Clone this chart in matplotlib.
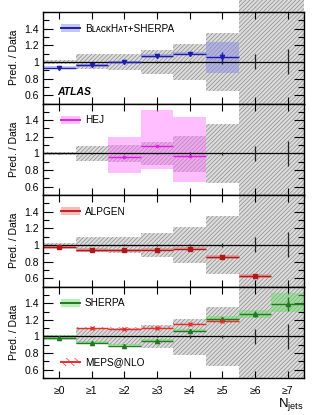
import numpy as np
import matplotlib
matplotlib.use("Agg")
from matplotlib import pyplot as plt
from matplotlib.patches import Patch
from matplotlib.lines import Line2D

plt.rcParams['font.family'] = ['Liberation Sans', 'DejaVu Sans']
plt.rcParams['hatch.linewidth'] = 0.5

# bins: >=0 ... >=7 jets
tick_labels = ["≥0", "≥1", "≥2", "≥3", "≥4", "≥5", "≥6", "≥7"]
bins = np.arange(8)

# data uncertainty band (relative) and data stat errors
data_lo = [0.98, 0.91, 0.90, 0.86, 0.78, 0.65, 0.0, 0.0]
data_hi = [1.02, 1.09, 1.10, 1.14, 1.21, 1.35, 2.5, 2.5]
data_err = [0.004, 0.005, 0.006, 0.01, 0.015, 0.02, 0.09, 0.15]

# BlackHat+SHERPA
bh_bins = [0, 1, 2, 3, 4, 5]
bh_val = [0.93, 0.96, 1.00, 1.07, 1.10, 1.06]
bh_lo = [0.91, 0.945, 0.99, 1.05, 1.08, 0.87]
bh_hi = [0.955, 0.975, 1.01, 1.09, 1.12, 1.24]
bh_err = [0.01, 0.01, 0.01, 0.01, 0.01, 0.06]

# HEJ
hej_bins = [2, 3, 4]
hej_val = [0.96, 1.085, 0.97]
hej_lo = [0.77, 0.81, 0.66]
hej_hi = [1.20, 1.52, 1.44]
hej_err = [0.01, 0.01, 0.01]

# ALPGEN
alp_bins = [0, 1, 2, 3, 4, 5, 6]
alp_val = [0.97, 0.94, 0.935, 0.945, 0.955, 0.855, 0.625]
alp_lo = [0.95, 0.92, 0.915, 0.925, 0.935, 0.835, 0.605]
alp_hi = [0.99, 0.96, 0.955, 0.965, 0.975, 0.875, 0.645]
alp_err = [0.01, 0.01, 0.01, 0.01, 0.01, 0.01, 0.01]

# SHERPA
sh_bins = [0, 1, 2, 3, 4, 5, 6, 7]
sh_val = [0.98, 0.927, 0.89, 0.95, 1.07, 1.21, 1.27, 1.39]
sh_lo = [0.96, 0.91, 0.875, 0.935, 1.05, 1.19, 1.22, 1.29]
sh_hi = [1.02, 0.945, 0.905, 0.965, 1.09, 1.25, 1.32, 1.52]
sh_err = [0.01, 0.01, 0.01, 0.01, 0.015, 0.03, 0.04, 0.08]

# MEPS@NLO
mp_bins = [1, 2, 3, 4, 5]
mp_val = [1.10, 1.095, 1.105, 1.15, 1.19]
mp_lo = [1.085, 1.08, 1.09, 1.135, 1.165]
mp_hi = [1.115, 1.11, 1.12, 1.165, 1.215]


def draw_pred(ax, xb, val, lo, hi, err, color, band, marker, alpha=0.5,
              hatch=None, ms=3):
    xb = np.asarray(xb)
    lo = np.asarray(lo)
    hi = np.asarray(hi)
    if hatch:
        ax.bar(xb, hi - lo, bottom=lo, width=1.0, facecolor='none',
               edgecolor=band, hatch=hatch, linewidth=0, zorder=3)
    else:
        ax.bar(xb, hi - lo, bottom=lo, width=1.0, color=band, alpha=alpha,
               linewidth=0, zorder=3)
    ax.errorbar(xb, val, xerr=0.5, yerr=err, fmt=marker, color=color,
                ms=ms, lw=1.0, capsize=0, zorder=5)


fig, axes = plt.subplots(4, 1, figsize=(3.13, 4.15), dpi=100, sharex=True)
fig.subplots_adjust(left=0.137, right=0.971, top=0.971, bottom=0.089, hspace=0)

for i, ax in enumerate(axes):
    lo = np.asarray(data_lo)
    hi = np.asarray(data_hi)
    rects = ax.bar(bins, hi - lo, bottom=lo, width=1.0, facecolor='#dcdcdc',
                   edgecolor='#8a8a8a', hatch='////////', linewidth=0, zorder=1)
    if i == 0:
        # the band of the last bins runs over the top of the frame
        for r in rects:
            r.set_clip_on(False)
    ax.axhline(1.0, color='black', lw=0.9, zorder=4)
    ax.errorbar(bins, np.ones(8), yerr=data_err, fmt='none', ecolor='#222222',
                lw=0.9, capsize=0, zorder=4)
    ax.set_xlim(-0.5, 7.5)
    ax.set_ylim(0.5, 1.6)
    ax.set_yticks([0.6, 0.8, 1.0, 1.2, 1.4])
    ax.set_yticklabels(["0.6", "0.8", "1", "1.2", "1.4"])
    ax.set_yticks(np.arange(0.5, 1.61, 0.1), minor=True)
    ax.tick_params(axis='y', which='major', direction='in', left=True,
                   right=True, length=7, width=0.8, labelsize=7.5, pad=3)
    ax.tick_params(axis='y', which='minor', direction='in', left=True,
                   right=True, length=4, width=0.8)
    ax.tick_params(axis='x', which='major', direction='in', top=True,
                   bottom=True, length=5, width=0.8, labelsize=7.5, pad=6)
    ax.set_xticks(bins)
    ax.set_ylabel("Pred. / Data", fontsize=7.5, labelpad=4)
    for s in ax.spines.values():
        s.set_linewidth(1.0)
        s.set_zorder(6)

axes[-1].set_xticklabels(tick_labels)
fig.align_ylabels(axes)

leg_kw = dict(frameon=False, fontsize=7.2, handlelength=1.9, handleheight=0.8,
              handletextpad=0.5, borderpad=0, borderaxespad=0, loc='center left')

# panel 1: BlackHat+SHERPA
ax = axes[0]
draw_pred(ax, bh_bins, bh_val, bh_lo, bh_hi, bh_err, '#1c1cb0', '#8c8ce8', 'v',
          alpha=0.5)
h = (Patch(color='#8c8ce8', alpha=0.5, lw=0), Line2D([], [], color='#1c1cb0', lw=1.4))
ax.legend([h], ["BʟᴀᴄᴋHᴀᴛ+SHERPA"], bbox_to_anchor=(0.069, 0.818), **leg_kw)
ax.text(0.054, 0.13, "ATLAS", transform=ax.transAxes, fontsize=7.5,
        fontweight='bold', fontstyle='italic', va='center', zorder=7)

# panel 2: HEJ
ax = axes[1]
draw_pred(ax, hej_bins, hej_val, hej_lo, hej_hi, hej_err, '#e020e0', '#ff70ff', '.',
          alpha=0.45, ms=3)
h = (Patch(color='#ff70ff', alpha=0.45, lw=0), Line2D([], [], color='#e020e0', lw=1.4))
ax.legend([h], ["HEJ"], bbox_to_anchor=(0.069, 0.818), **leg_kw)

# panel 3: ALPGEN
ax = axes[2]
draw_pred(ax, alp_bins, alp_val, alp_lo, alp_hi, alp_err, '#b01818', '#f07878', 's',
          alpha=0.5, ms=3)
h = (Patch(color='#f07878', alpha=0.5, lw=0), Line2D([], [], color='#c02020', lw=1.4))
ax.legend([h], ["ALPGEN"], bbox_to_anchor=(0.069, 0.818), **leg_kw)

# panel 4: SHERPA + MEPS@NLO
ax = axes[3]
draw_pred(ax, sh_bins, sh_val, sh_lo, sh_hi, sh_err, '#1f7a1f', '#60dd60', '^',
          alpha=0.45, ms=3)
draw_pred(ax, mp_bins, mp_val, mp_lo, mp_hi, [0.01] * 5, '#ee2a2a', '#ff5050', 'x',
          hatch='\\\\\\\\', ms=3.5)
h = (Patch(color='#60dd60', alpha=0.45, lw=0), Line2D([], [], color='#1f7a1f', lw=1.4))
l1 = ax.legend([h], ["SHERPA"], bbox_to_anchor=(0.069, 0.818), **leg_kw)
ax.add_artist(l1)
h2 = (Patch(facecolor='none', edgecolor='#ff3030', hatch='\\\\\\\\', lw=0),
      Line2D([], [], color='#ee2a2a', lw=1.4))
ax.legend([h2], ["MEPS@NLO"], bbox_to_anchor=(0.069, 0.17), **leg_kw)

fig.text(0.971, 0.004, r"N$_{\mathregular{jets}}$", ha='right', va='bottom',
         fontsize=9.5)

fig.savefig("out.png", dpi=100)
